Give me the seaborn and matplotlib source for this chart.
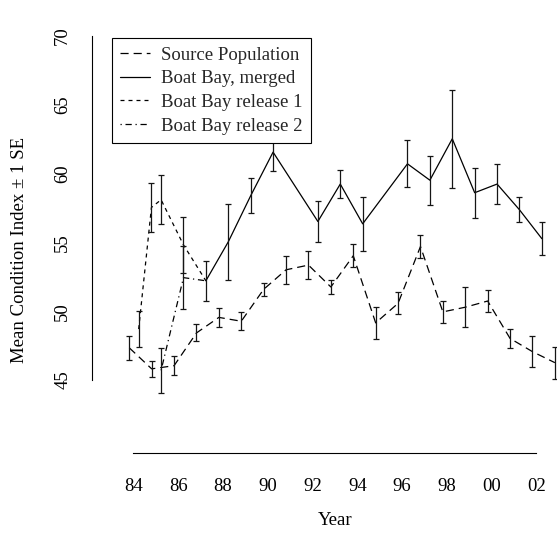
import numpy as np
import pandas as pd
import matplotlib
matplotlib.use("Agg")
import matplotlib.pyplot as plt
from matplotlib.lines import Line2D
import seaborn as sns

# Source population: sampled every year, early in the season
src_year = [1984, 1985, 1986, 1987, 1988, 1989, 1990, 1991, 1992, 1993,
            1994, 1995, 1996, 1997, 1998, 1999, 2000, 2001, 2002, 2003]
src_mean = [47.34, 45.81, 46.04, 48.42, 49.55, 49.27, 51.59, 53.01, 53.35, 51.76,
            54.03, 49.15, 50.57, 54.7, 49.95, 50.29, 50.74, 48.02, 47.06, 46.26]
src_se = [0.87, 0.57, 0.68, 0.62, 0.68, 0.65, 0.45, 1.02, 1.02, 0.48,
          0.85, 1.17, 0.79, 0.85, 0.79, 1.44, 0.83, 0.68, 1.13, 1.16]

# Boat Bay, both releases pooled
mrg_year = [1987, 1988, 1989, 1990, 1992, 1993, 1994,
            1996, 1997, 1998, 1999, 2000, 2001, 2002]
mrg_mean = [52.21, 55.04, 58.39, 61.56, 56.52, 59.24, 56.35,
            60.71, 59.52, 62.53, 58.61, 59.24, 57.37, 55.27]
mrg_se = [1.46, 2.76, 1.26, 1.40, 1.51, 1.01, 1.95,
          1.70, 1.79, 3.57, 1.82, 1.46, 0.92, 1.18]

# Boat Bay release 1 (last value is the first pooled sample)
rel1_year = [1984, 1984.57, 1985, 1986, 1987]
rel1_mean = [48.70, 57.54, 58.10, 54.82, 52.21]
rel1_se = [1.28, 1.77, 1.77, 2.04, 0.0]

# Boat Bay release 2 (last value is the first pooled sample)
rel2_year = [1985, 1986, 1987]
rel2_mean = [45.70, 52.44, 52.21]
rel2_se = [1.64, 2.27, 0.0]

# sampling time within the year
src_season = -0.18
bay_season = 0.24

year_ticks = [1984, 1986, 1988, 1990, 1992, 1994, 1996, 1998, 2000, 2002]
year_labels = ["84", "86", "88", "90", "92", "94", "96", "98", "00", "02"]
ci_ticks = [45, 50, 55, 60, 65, 70]

series_names = ["Source Population", "Boat Bay, merged",
                "Boat Bay release 1", "Boat Bay release 2"]
series_styles = {
    "Source Population": (0, (6.5, 4.0)),
    "Boat Bay, merged": "-",
    "Boat Bay release 1": (0, (3.2, 3.2)),
    "Boat Bay release 2": (0, (1.0, 3.0, 5.0, 3.0)),
}

frames = []
for name, yr, mu, se, off in [
    (series_names[0], src_year, src_mean, src_se, src_season),
    (series_names[1], mrg_year, mrg_mean, mrg_se, bay_season),
    (series_names[2], rel1_year, rel1_mean, rel1_se, bay_season),
    (series_names[3], rel2_year, rel2_mean, rel2_se, bay_season),
]:
    frames.append(pd.DataFrame({"t": np.array(yr, float) + off,
                                "mean": mu, "se": se, "series": name}))
df = pd.concat(frames, ignore_index=True)

sns.set_theme(style="white")
plt.rcParams["font.family"] = ["Liberation Serif", "DejaVu Serif"]

W, H = 557, 536
fig = plt.figure(figsize=(W / 100, H / 100), dpi=100)
ax_left, ax_bottom = 92, 453
ax = fig.add_axes([ax_left / W, (H - ax_bottom) / H,
                   (W - ax_left) / W, ax_bottom / H])

lw = 0.9
for name in series_names:
    sub = df[df["series"] == name]
    sns.lineplot(data=sub, x="t", y="mean", ax=ax, color="black",
                 linewidth=lw, linestyle=series_styles[name],
                 estimator=None, sort=False, errorbar=None, legend=False)
    bars = sub[sub["se"] > 0]
    ax.errorbar(bars["t"], bars["mean"], yerr=bars["se"], fmt="none",
                ecolor="#151515", elinewidth=lw, capsize=2.0,
                capthick=lw)

# data range -> pixel layout
px_per_year = 22.4
x84_px = 133.3
ax.set_xlim(1984 + (ax_left - x84_px) / px_per_year,
            1984 + (W - x84_px) / px_per_year)
y70_px, y45_px = 36.0, 380.0
px_per_unit = (y45_px - y70_px) / 25.0
ax.set_ylim(70 - (ax_bottom - y70_px) / px_per_unit,
            70 + y70_px / px_per_unit)

ax.set_xticks(year_ticks)
ax.set_xticklabels(year_labels)
ax.set_yticks(ci_ticks)
ax.set_yticklabels([str(v) for v in ci_ticks], rotation=90, va="center")

for side in ["top", "right"]:
    ax.spines[side].set_visible(False)
for side in ["left", "bottom"]:
    ax.spines[side].set_color("black")
    ax.spines[side].set_linewidth(0.8)
ax.spines["left"].set_bounds(ci_ticks[0], ci_ticks[-1])
ax.spines["bottom"].set_bounds(year_ticks[0], year_ticks[-1])

fs = 13.5
ax.tick_params(axis="both", direction="out", length=5, width=0.8,
               colors="black", labelsize=fs)
ax.tick_params(axis="x", pad=13)
ax.tick_params(axis="y", pad=10)
ax.grid(False)

ax.set_xlabel("Year", fontsize=fs, color="black")
ax.set_ylabel("Mean Condition Index \u00b1 1 SE", fontsize=fs, color="black")
ax.xaxis.set_label_coords((335 - ax_left) / (W - ax_left),
                          (ax_bottom - 512) / ax_bottom)
ax.yaxis.set_label_coords((28 - ax_left) / (W - ax_left),
                          (ax_bottom - 250) / ax_bottom)

handles = [Line2D([], [], color="black", linewidth=lw,
                  linestyle=series_styles[n]) for n in series_names]
leg = ax.legend(handles, series_names, loc="upper left",
                bbox_to_anchor=((112 - ax_left) / (W - ax_left),
                                (ax_bottom - 38) / ax_bottom),
                borderaxespad=0, fontsize=fs, frameon=True, fancybox=False,
                edgecolor="black", framealpha=1, handlelength=1.6,
                handletextpad=0.55, labelspacing=0.35, borderpad=0.45)
leg.get_frame().set_linewidth(0.8)

fig.savefig("out.png", dpi=100, facecolor="white")
